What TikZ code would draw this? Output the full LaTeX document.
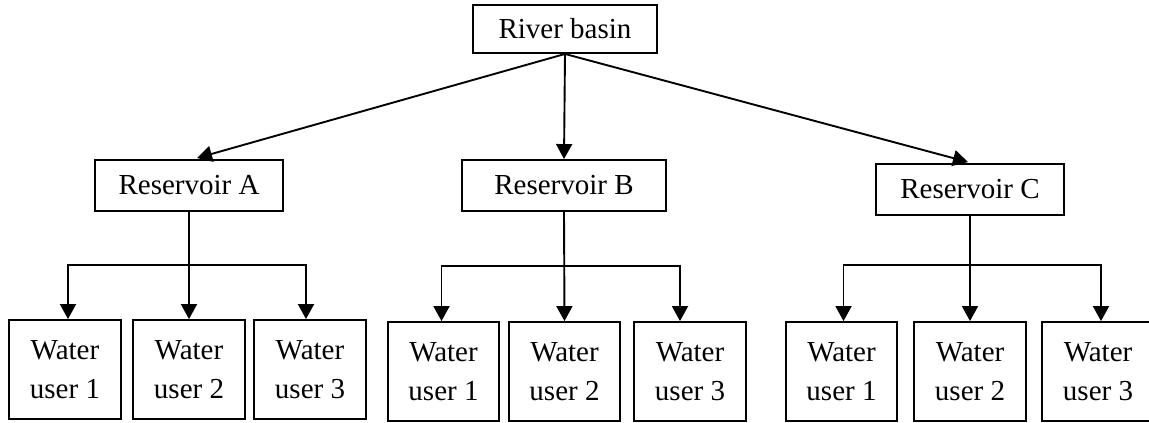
\documentclass[tikz,border=0pt]{standalone}
\usepackage{fontspec}
\setmainfont{Liberation Serif}
\usetikzlibrary{arrows.meta,calc}
\begin{document}
\begin{tikzpicture}[x=1pt,y=-1pt,
  box/.style={draw,line width=1.9pt,inner sep=0pt,anchor=center,
    font=\fontsize{29}{39}\selectfont,align=center},
  res/.style={box,minimum height=51pt},
  user/.style={box,minimum width=111.5pt,minimum height=99pt},
  conn/.style={line width=1.9pt,-{Triangle[width=16pt,length=15pt]}},
  plain/.style={line width=1.9pt}]
\clip (0,0) rectangle (1149,423);
\fill[white] (0,0) rectangle (1149,423);
\node[box,minimum width=184pt,minimum height=48pt] (river) at (565,29) {River basin};
\node[res,minimum width=188pt] (resA) at (189,185.5) {Reservoir A};
\node[res,minimum width=204pt] (resB) at (564,185.5) {Reservoir B};
\node[res,minimum width=188pt] (resC) at (970,189.5) {Reservoir C};
\node[user] (a1) at (65,369.5) {Water\\user 1};
\node[user] (a2) at (189,369.5) {Water\\user 2};
\node[user] (a3) at (310,369.5) {Water\\user 3};
\node[user] (b1) at (443.5,371.5) {Water\\user 1};
\node[user] (b2) at (564.5,371.5) {Water\\user 2};
\node[user] (b3) at (690,371.5) {Water\\user 3};
\node[user] (c1) at (841.5,371.5) {Water\\user 1};
\node[user] (c2) at (970,371.5) {Water\\user 2};
\node[user] (c3) at (1098,371.5) {Water\\user 3};
\draw[conn] (river.south) -- ($(resA.north)+(8,-1)$);
\draw[conn] (river.south) -- (resB.north);
\draw[conn] (river.south) -- ($(resC.north)+(-2,-1)$);
\coordinate (ja) at (190,265);
\coordinate (jb) at (564,266);
\coordinate (jc) at (970,265);
\draw[conn] (resA.south) -- (a2.north);
\draw[conn] (ja) -| ($(a1.north)+(3,0)$);
\draw[conn] (ja) -| ($(a3.north)+(-4,0)$);
\draw[conn] (resB.south) -- (b2.north);
\draw[conn] (jb) -| ($(b1.north)+(-2,0)$);
\draw[conn] (jb) -| ($(b3.north)+(-10,0)$);
\draw[conn] (resC.south) -- (c2.north);
\draw[conn] (jc) -| ($(c1.north)+(2,0)$);
\draw[conn] (jc) -| ($(c3.north)+(3,0)$);
\end{tikzpicture}
\end{document}
